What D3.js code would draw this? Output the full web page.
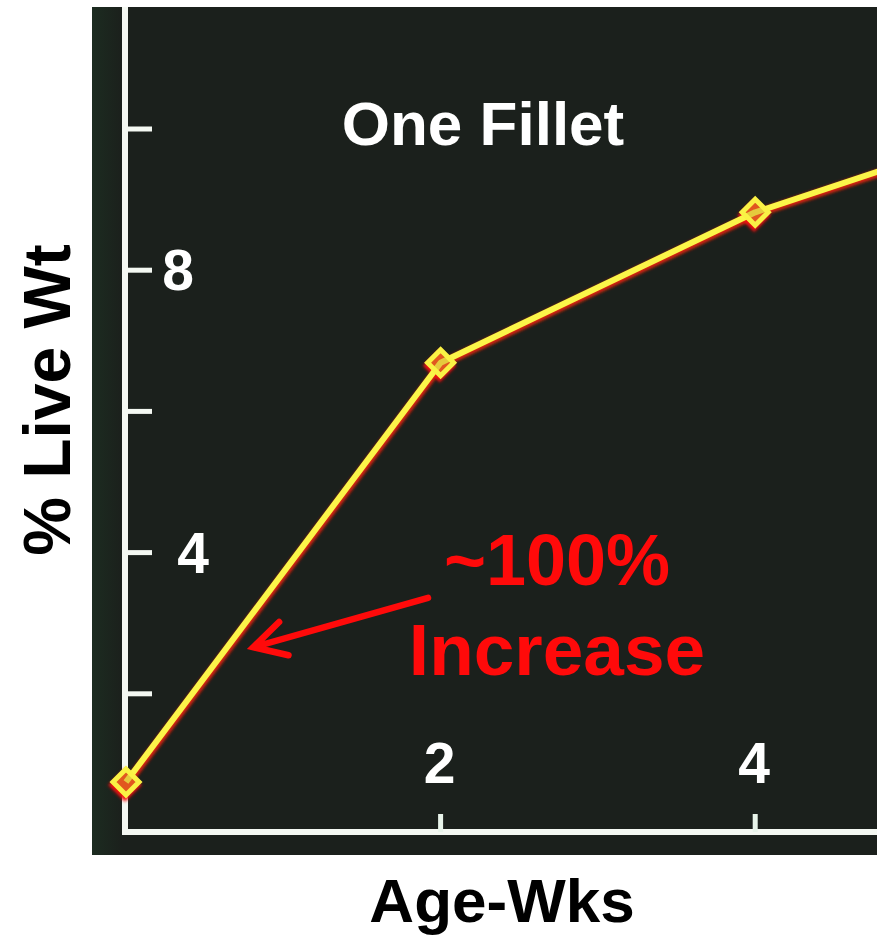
<!DOCTYPE html>
<html>
<head>
<meta charset="utf-8">
<script src="https://cdn.jsdelivr.net/npm/d3@7"></script>
<style>
  html, body { margin: 0; padding: 0; background: #ffffff; }
  svg { display: block; }
  text { font-family: "Liberation Sans", Arial, Helvetica, sans-serif; font-weight: bold; }
</style>
</head>
<body>
<svg id="chart" width="877" height="938"></svg>
<script>
// Fillet yield (% of live weight) by age in weeks
const ageWeeks = [0, 2, 4, 6];
const filletPct = [0.75, 6.69, 8.82, 10.3];

const yTicks = [2, 4, 6, 8, 10];
const yTickLabels = ["", "4", "", "8", ""];
const xTicks = [2, 4];
const xTickLabels = ["2", "4"];

const titleText = "One Fillet";
const xTitle = "Age-Wks";
const yTitle = "% Live Wt";
const noteLines = ["~100%", "Increase"];
// arrow from the note to the rising segment (week, %)
const arrowFrom = [1.92, 3.36];
const arrowTo = [0.81, 2.66];

const svg = d3.select("#chart");

// dark slide panel
const panel = { x0: 92, y0: 7, x1: 877, y1: 855 };
const axisX = 125, axisY = 832;

const x = d3.scaleLinear().domain([0, 1]).range([126, 126 + 157.3]);
const y = d3.scaleLinear().domain([0, 1]).range([835, 835 - 70.6]);

const defs = svg.append("defs");
defs.append("filter").attr("id", "soft")
  .attr("x", "-20%").attr("y", "-20%").attr("width", "140%").attr("height", "140%")
  .append("feGaussianBlur").attr("stdDeviation", 1.6);
defs.append("filter").attr("id", "soft2")
  .attr("x", "-20%").attr("y", "-20%").attr("width", "140%").attr("height", "140%")
  .append("feGaussianBlur").attr("stdDeviation", 0.7);
defs.append("clipPath").attr("id", "panelClip")
  .append("rect").attr("x", panel.x0).attr("y", panel.y0)
  .attr("width", panel.x1 - panel.x0).attr("height", panel.y1 - panel.y0);
const edge = defs.append("linearGradient").attr("id", "edgeTint")
  .attr("x1", "0").attr("x2", "1").attr("y1", "0").attr("y2", "0");
edge.append("stop").attr("offset", "0").attr("stop-color", "#1d3a26").attr("stop-opacity", 0.45);
edge.append("stop").attr("offset", "1").attr("stop-color", "#1d3a26").attr("stop-opacity", 0);

svg.append("rect").attr("x", panel.x0).attr("y", panel.y0)
  .attr("width", panel.x1 - panel.x0).attr("height", panel.y1 - panel.y0)
  .attr("fill", "#1b201c");
svg.append("rect").attr("x", panel.x0).attr("y", panel.y0)
  .attr("width", 30).attr("height", panel.y1 - panel.y0)
  .attr("fill", "url(#edgeTint)");

const plot = svg.append("g").attr("clip-path", "url(#panelClip)");

// axes: white lines with short ticks
const axisG = plot.append("g").attr("filter", "url(#soft2)");
axisG.append("line")
  .attr("x1", axisX).attr("x2", axisX).attr("y1", panel.y0).attr("y2", axisY)
  .attr("stroke", "#f4f8f2").attr("stroke-width", 6);
axisG.append("line")
  .attr("x1", axisX - 3).attr("x2", panel.x1).attr("y1", axisY).attr("y2", axisY)
  .attr("stroke", "#f4f8f2").attr("stroke-width", 6);

axisG.selectAll(".ytick").data(yTicks).join("line")
  .attr("x1", axisX).attr("x2", axisX + 27)
  .attr("y1", d => y(d)).attr("y2", d => y(d))
  .attr("stroke", "#f4f8f2").attr("stroke-width", 5);
axisG.selectAll(".xtick").data(xTicks).join("line")
  .attr("x1", d => x(d)).attr("x2", d => x(d))
  .attr("y1", axisY).attr("y2", axisY - 18)
  .attr("stroke", "#e8f4ea").attr("stroke-width", 5);

// tick labels
const yLabelX = { "8": 178, "4": 193 };
plot.selectAll(".ylab").data(yTicks.map((t, i) => ({ t, s: yTickLabels[i] })).filter(d => d.s))
  .join("text")
  .attr("x", d => yLabelX[d.s])
  .attr("y", d => y(d.t) + 20)
  .attr("text-anchor", "middle")
  .attr("font-size", 57)
  .attr("fill", "#ffffff")
  .text(d => d.s);

plot.selectAll(".xlab").data(xTicks.map((t, i) => ({ t, s: xTickLabels[i] })))
  .join("text")
  .attr("x", d => x(d.t) - 1)
  .attr("y", 783)
  .attr("text-anchor", "middle")
  .attr("font-size", 57)
  .attr("fill", "#ffffff")
  .text(d => d.s);

// data line: red halo under a yellow core
const pts = ageWeeks.map((w, i) => [w, filletPct[i]]);
const line = d3.line().x(d => x(d[0])).y(d => y(d[1]));

plot.append("path").datum(pts)
  .attr("d", line).attr("fill", "none")
  .attr("stroke", "#d8200e").attr("stroke-width", 8)
  .attr("stroke-linejoin", "round")
  .attr("transform", "translate(1,1.5)")
  .attr("filter", "url(#soft)");

// markers: red smudge behind a yellow diamond outline
plot.selectAll(".mk-red").data(pts).join("path")
  .attr("d", d3.symbol().type(d3.symbolSquare).size(560)())
  .attr("transform", d => `translate(${x(d[0]) - 1},${y(d[1]) + 3}) rotate(45)`)
  .attr("fill", "#f21010")
  .attr("filter", "url(#soft)");

plot.append("path").datum(pts)
  .attr("d", line).attr("fill", "none")
  .attr("stroke", "#fbf548").attr("stroke-width", 6)
  .attr("stroke-linejoin", "round")
  .attr("filter", "url(#soft2)");

plot.selectAll(".mk").data(pts).join("path")
  .attr("d", d3.symbol().type(d3.symbolDiamond2).size(430)())
  .attr("transform", d => `translate(${x(d[0])},${y(d[1])})`)
  .attr("fill", "#d0a030")
  .attr("fill-opacity", 0.5)
  .attr("stroke", "#faf244").attr("stroke-width", 5)
  .attr("filter", "url(#soft2)");

// title inside the panel
svg.append("text")
  .attr("x", 483).attr("y", 145)
  .attr("text-anchor", "middle")
  .attr("font-size", 62)
  .attr("fill", "#ffffff")
  .text(titleText);

// annotation
const ax0 = x(arrowFrom[0]), ay0 = y(arrowFrom[1]);
const ax1 = x(arrowTo[0]), ay1 = y(arrowTo[1]);
const ang = Math.atan2(ay0 - ay1, ax0 - ax1);
const headLen = 36, headSpread = 0.5;
const h1 = [ax1 + headLen * Math.cos(ang + headSpread), ay1 + headLen * Math.sin(ang + headSpread)];
const h2 = [ax1 + headLen * Math.cos(ang - headSpread), ay1 + headLen * Math.sin(ang - headSpread)];
svg.append("path")
  .attr("d", `M${ax0},${ay0}L${ax1},${ay1}M${h1[0]},${h1[1]}L${ax1},${ay1}L${h2[0]},${h2[1]}`)
  .attr("fill", "none").attr("stroke", "#ff0a0a")
  .attr("stroke-width", 6.5).attr("stroke-linecap", "round").attr("stroke-linejoin", "miter");

svg.selectAll(".note").data(noteLines).join("text")
  .attr("x", 557)
  .attr("y", (d, i) => i === 0 ? 585 : 675)
  .attr("text-anchor", "middle")
  .attr("font-size", (d, i) => i === 0 ? 72 : 73)
  .attr("fill", "#ff0a0a")
  .text(d => d);

// axis titles outside the panel
svg.append("text")
  .attr("x", 502).attr("y", 922)
  .attr("text-anchor", "middle")
  .attr("font-size", 62)
  .attr("fill", "#000000")
  .text(xTitle);

svg.append("text")
  .attr("transform", "translate(70,400) rotate(-90)")
  .attr("text-anchor", "middle")
  .attr("font-size", 66)
  .attr("fill", "#000000")
  .text(yTitle);
</script>
</body>
</html>
